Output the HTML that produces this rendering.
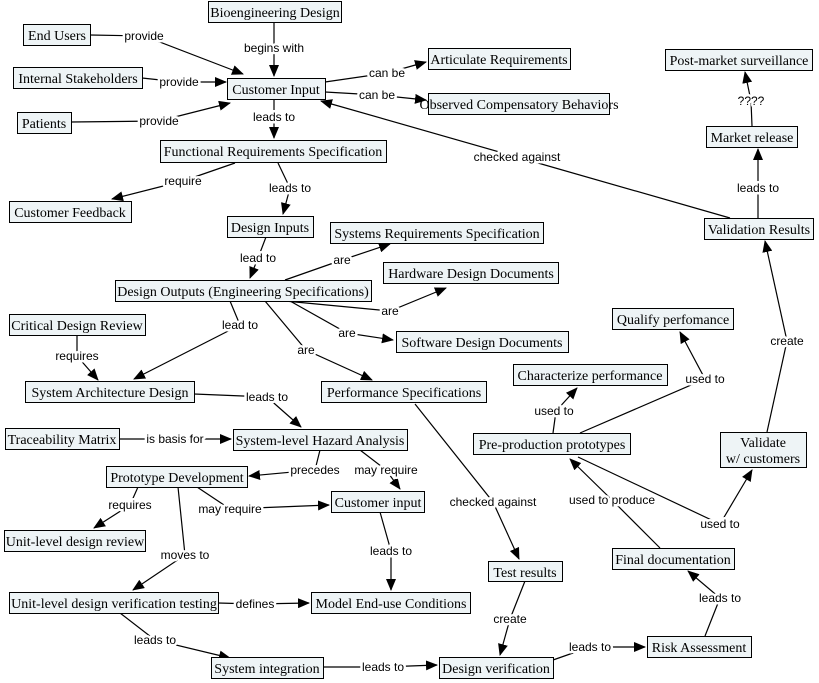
<!DOCTYPE html>
<html><head><meta charset="utf-8"><style>
html,body{margin:0;padding:0;background:#fff;width:819px;height:683px;overflow:hidden}
.n rect{fill:#eef4f6;stroke:#000;stroke-width:1}
.n text{font-family:"Liberation Serif",serif;font-size:14px;fill:#000;text-anchor:middle}
.e{fill:none;stroke:#000;stroke-width:1.2}
.l{font-family:"Liberation Sans",sans-serif;font-size:12px;text-anchor:middle;fill:#000;stroke:#fff;stroke-width:5;paint-order:stroke;stroke-linejoin:round}
</style></head><body>
<svg width="819" height="683" xmlns="http://www.w3.org/2000/svg">
<defs><marker id="a" markerWidth="12" markerHeight="10" refX="11" refY="5" orient="auto" markerUnits="userSpaceOnUse"><path d="M0,0 L12,5 L0,10 z" fill="#000"/></marker></defs>
<g>
<polyline class="e" marker-end="url(#a)" points="90,35 144,36 243,74"/>
<polyline class="e" marker-end="url(#a)" points="142,78 179,82 226,82"/>
<polyline class="e" marker-end="url(#a)" points="71,122 159,121 230,103"/>
<polyline class="e" marker-end="url(#a)" points="274,22 274,48 274,76"/>
<polyline class="e" marker-end="url(#a)" points="325,82 387,73 426,62"/>
<polyline class="e" marker-end="url(#a)" points="325,92 377,95 426,100"/>
<polyline class="e" marker-end="url(#a)" points="730,218 517,157 321,101"/>
<polyline class="e" marker-end="url(#a)" points="274,99 274,117 274,138"/>
<polyline class="e" marker-end="url(#a)" points="235,163 183,181 112,199"/>
<polyline class="e" marker-end="url(#a)" points="278,163 290,188 283,214"/>
<polyline class="e" marker-end="url(#a)" points="266,237 258,258 250,278"/>
<polyline class="e" marker-end="url(#a)" points="285,280 342,260 390,244"/>
<polyline class="e" marker-end="url(#a)" points="285,301 390,311 446,288"/>
<polyline class="e" marker-end="url(#a)" points="290,301 347,333 393,340"/>
<polyline class="e" marker-end="url(#a)" points="230,301 240,325 134,379"/>
<polyline class="e" marker-end="url(#a)" points="265,301 306,350 372,380"/>
<polyline class="e" marker-end="url(#a)" points="77,335 77,356 98,380"/>
<polyline class="e" marker-end="url(#a)" points="194,394 267,397 301,427"/>
<polyline class="e" marker-end="url(#a)" points="119,439 175,439 231,439"/>
<polyline class="e" marker-end="url(#a)" points="320,450 315,470 249,476"/>
<polyline class="e" marker-end="url(#a)" points="360,450 386,470 400,489"/>
<polyline class="e" marker-end="url(#a)" points="197,487 230,509 329,505"/>
<polyline class="e" marker-end="url(#a)" points="138,487 130,505 94,528"/>
<polyline class="e" marker-end="url(#a)" points="178,487 185,555 133,590"/>
<polyline class="e" marker-end="url(#a)" points="380,512 391,551 391,590"/>
<polyline class="e" marker-end="url(#a)" points="218,603 255,604 309,603"/>
<polyline class="e" marker-end="url(#a)" points="120,613 155,640 230,658"/>
<polyline class="e" marker-end="url(#a)" points="323,667 383,667 437,665"/>
<polyline class="e" marker-end="url(#a)" points="415,404 493,502 519,559"/>
<polyline class="e" marker-end="url(#a)" points="525,581 510,619 500,655"/>
<polyline class="e" marker-end="url(#a)" points="553,660 590,647 645,647"/>
<polyline class="e" marker-end="url(#a)" points="705,636 720,598 688,571"/>
<polyline class="e" marker-end="url(#a)" points="660,548 612,500 570,459"/>
<polyline class="e" marker-end="url(#a)" points="553,433 556,411 577,388"/>
<polyline class="e" marker-end="url(#a)" points="580,433 705,379 680,332"/>
<polyline class="e" marker-end="url(#a)" points="578,457 720,524 752,470"/>
<polyline class="e" marker-end="url(#a)" points="767,432 787,341 765,241"/>
<polyline class="e" marker-end="url(#a)" points="758,218 758,188 758,149"/>
<polyline class="e" marker-end="url(#a)" points="752,126 751,101 745,72"/>
</g>
<g>
<text class="l" x="144" y="40">provide</text>
<text class="l" x="179" y="86">provide</text>
<text class="l" x="159" y="125">provide</text>
<text class="l" x="274" y="52">begins with</text>
<text class="l" x="387" y="77">can be</text>
<text class="l" x="377" y="99">can be</text>
<text class="l" x="517" y="161">checked against</text>
<text class="l" x="274" y="121">leads to</text>
<text class="l" x="183" y="185">require</text>
<text class="l" x="290" y="192">leads to</text>
<text class="l" x="258" y="262">lead to</text>
<text class="l" x="342" y="264">are</text>
<text class="l" x="390" y="315">are</text>
<text class="l" x="347" y="337">are</text>
<text class="l" x="240" y="329">lead to</text>
<text class="l" x="306" y="354">are</text>
<text class="l" x="77" y="360">requires</text>
<text class="l" x="267" y="401">leads to</text>
<text class="l" x="175" y="443">is basis for</text>
<text class="l" x="315" y="474">precedes</text>
<text class="l" x="386" y="474">may require</text>
<text class="l" x="230" y="513">may require</text>
<text class="l" x="130" y="509">requires</text>
<text class="l" x="185" y="559">moves to</text>
<text class="l" x="391" y="555">leads to</text>
<text class="l" x="255" y="608">defines</text>
<text class="l" x="155" y="644">leads to</text>
<text class="l" x="383" y="671">leads to</text>
<text class="l" x="493" y="506">checked against</text>
<text class="l" x="510" y="623">create</text>
<text class="l" x="590" y="651">leads to</text>
<text class="l" x="720" y="602">leads to</text>
<text class="l" x="612" y="504">used to produce</text>
<text class="l" x="554" y="415">used to</text>
<text class="l" x="705" y="383">used to</text>
<text class="l" x="720" y="528">used to</text>
<text class="l" x="787" y="345">create</text>
<text class="l" x="758" y="192">leads to</text>
<text class="l" x="751" y="105">????</text>
</g>
<g class="n">
<rect x="208.5" y="1.5" width="133" height="21"/><text x="275" y="17">Bioengineering Design</text>
<rect x="23.5" y="24.5" width="67" height="21"/><text x="57" y="40">End Users</text>
<rect x="13.5" y="67.5" width="129" height="21"/><text x="78" y="83">Internal Stakeholders</text>
<rect x="227.5" y="78.5" width="98" height="21"/><text x="276" y="94">Customer Input</text>
<rect x="428.5" y="48.5" width="142" height="21"/><text x="499" y="64">Articulate Requirements</text>
<rect x="428.5" y="93.5" width="181" height="21"/><text x="519" y="109">Observed Compensatory Behaviors</text>
<rect x="17.5" y="112.5" width="54" height="21"/><text x="44" y="128">Patients</text>
<rect x="665.5" y="49.5" width="147" height="21"/><text x="739" y="65">Post-market surveillance</text>
<rect x="706.5" y="126.5" width="91" height="21"/><text x="752" y="142">Market release</text>
<rect x="160.5" y="140.5" width="226" height="22"/><text x="273" y="156">Functional Requirements Specification</text>
<rect x="9.5" y="201.5" width="122" height="21"/><text x="70" y="217">Customer Feedback</text>
<rect x="227.5" y="216.5" width="86" height="21"/><text x="270" y="232">Design Inputs</text>
<rect x="704.5" y="218.5" width="109" height="21"/><text x="759" y="234">Validation Results</text>
<rect x="330.5" y="222.5" width="213" height="21"/><text x="437" y="238">Systems Requirements Specification</text>
<rect x="383.5" y="262.5" width="175" height="21"/><text x="471" y="278">Hardware Design Documents</text>
<rect x="115.5" y="280.5" width="256" height="21"/><text x="243" y="296">Design Outputs (Engineering Specifications)</text>
<rect x="9.5" y="314.5" width="136" height="21"/><text x="77" y="330">Critical Design Review</text>
<rect x="612.5" y="308.5" width="121" height="21"/><text x="673" y="324">Qualify perfomance</text>
<rect x="396.5" y="331.5" width="172" height="21"/><text x="482" y="347">Software Design Documents</text>
<rect x="513.5" y="364.5" width="154" height="21"/><text x="590" y="380">Characterize performance</text>
<rect x="25.5" y="381.5" width="169" height="21"/><text x="110" y="397">System Architecture Design</text>
<rect x="321.5" y="381.5" width="165" height="21"/><text x="404" y="397">Performance Specifications</text>
<rect x="5.5" y="428.5" width="114" height="21"/><text x="62" y="444">Traceability Matrix</text>
<rect x="233.5" y="429.5" width="174" height="21"/><text x="320" y="445">System-level Hazard Analysis</text>
<rect x="473.5" y="433.5" width="157" height="21"/><text x="552" y="449">Pre-production prototypes</text>
<rect x="720.5" y="432.5" width="86" height="35"/><text x="763" y="447">Validate</text><text x="763" y="463">w/ customers</text>
<rect x="106.5" y="466.5" width="141" height="21"/><text x="177" y="482">Prototype Development</text>
<rect x="331.5" y="491.5" width="93" height="21"/><text x="378" y="507">Customer input</text>
<rect x="4.5" y="530.5" width="141" height="21"/><text x="75" y="546">Unit-level design review</text>
<rect x="612.5" y="548.5" width="122" height="21"/><text x="673" y="564">Final documentation</text>
<rect x="488.5" y="561.5" width="74" height="20"/><text x="525" y="577">Test results</text>
<rect x="9.5" y="592.5" width="209" height="21"/><text x="114" y="608">Unit-level design verification testing</text>
<rect x="311.5" y="592.5" width="159" height="21"/><text x="391" y="608">Model End-use Conditions</text>
<rect x="647.5" y="636.5" width="104" height="21"/><text x="699" y="652">Risk Assessment</text>
<rect x="211.5" y="657.5" width="112" height="21"/><text x="267" y="673">System integration</text>
<rect x="439.5" y="657.5" width="114" height="21"/><text x="496" y="673">Design verification</text>
</g>
</svg>
</body></html>
